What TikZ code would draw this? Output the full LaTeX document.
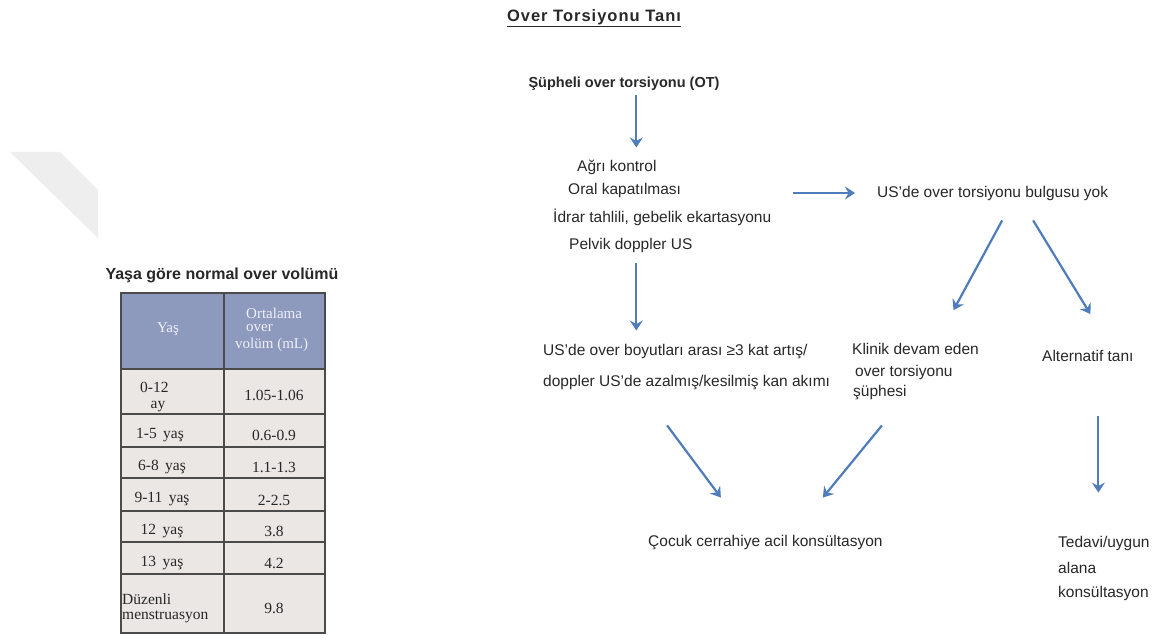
\documentclass[tikz,border=0pt]{standalone}
\usepackage{fontspec}
\setmainfont{Liberation Sans}
\newfontfamily\tabserif{Liberation Serif}
\newfontfamily\titlefont[LetterSpace=6]{Liberation Sans}
\usetikzlibrary{arrows.meta,calc}
\definecolor{arrblue}{RGB}{79,124,186}
\definecolor{txtgray}{RGB}{40,40,40}
\definecolor{headfill}{RGB}{142,153,190}
\definecolor{bodyfill}{RGB}{234,231,228}
\definecolor{gridline}{RGB}{75,75,75}
\definecolor{headtxt}{RGB}{238,240,248}
\definecolor{wmark}{RGB}{238,238,238}
\newcommand\fsz[1]{\fontsize{#1}{#1}\selectfont}
\begin{document}
\begin{tikzpicture}[x=1pt,y=-1pt,
  ftxt/.style={inner sep=0pt,anchor=west,text=txtgray,font=\fsz{15.5}},
  fbold/.style={inner sep=0pt,text=txtgray,font=\fsz{14.5}\bfseries},
  ttxt/.style={inner sep=0pt,text=txtgray,font=\tabserif\fsz{15.5}},
  htxt/.style={inner sep=0pt,text=headtxt,font=\tabserif\fsz{15}},
  arr/.style={draw=arrblue,line width=2.2pt,-{Stealth[length=10pt,width=13pt,inset=3.5pt]}},
  grid/.style={draw=gridline,line width=1.3pt}]
\useasboundingbox (0,0) rectangle (1162,639);
\fill[white] (0,0) rectangle (1162,639);
% watermark band
\fill[wmark] (10,152) -- (60,152) -- (98,190) -- (98,238) -- cycle;

% ---------- table ----------
\node[fbold,font=\fsz{16}\bfseries] (ttl) at (222,275) {Yaşa göre normal over volümü};
\fill[headfill] (121,293) rectangle (325,369);
\fill[bodyfill] (121,369) rectangle (325,633);
\draw[grid] (121,293) rectangle (325,633);
\draw[grid] (224,293) -- (224,633);
\foreach \yy in {369,414,447,478,511,542,574} \draw[grid] (121,\yy) -- (325,\yy);
\node[htxt] (hy) at (168,329) {Yaş};
\node[htxt,anchor=west] (h1) at (246,313) {Ortalama};
\node[htxt,anchor=west] (h2) at (246,328) {over};
\node[htxt,anchor=west] (h3) at (235,345) {volüm (mL)};
\node[ttxt,anchor=west] (r1a) at (140,387) {0-12};
\node[ttxt] (r1b) at (158,407) {ay};
\node[ttxt] (r1v) at (274,395) {1.05-1.06};
\node[ttxt] (r2a) at (160,435) {1-5\, yaş};
\node[ttxt] (r2v) at (274,435) {0.6-0.9};
\node[ttxt] (r3a) at (162,467) {6-8\, yaş};
\node[ttxt] (r3v) at (274,467) {1.1-1.3};
\node[ttxt] (r4a) at (162,499) {9-11\, yaş};
\node[ttxt] (r4v) at (274,500) {2-2.5};
\node[ttxt] (r5a) at (162,531) {12\, yaş};
\node[ttxt] (r5v) at (274,531) {3.8};
\node[ttxt] (r6a) at (162,563) {13\, yaş};
\node[ttxt] (r6v) at (274,563) {4.2};
\node[ttxt,anchor=west] (r7a) at (122,599) {Düzenli};
\node[ttxt,anchor=west] (r7b) at (122,617) {menstruasyon};
\node[ttxt] (r7v) at (274,608) {9.8};

% ---------- flowchart ----------
\node[inner sep=0pt,text=txtgray,font=\titlefont\fsz{16.5}\bfseries] (title) at (594,18) {\underline{Over Torsiyonu Tanı}};
\node[fbold] (ot) at (624,84) {Şüpheli over torsiyonu (OT)};
\node[ftxt] (agri) at (577,167) {Ağrı kontrol};
\node[ftxt] (oral) at (568,190) {Oral kapatılması};
\node[ftxt] (idrar) at (553,217) {İdrar tahlili, gebelik ekartasyonu};
\node[ftxt] (pelvik) at (569,245) {Pelvik doppler US};
\node[ftxt] (bulgu) at (877,193) {US’de over torsiyonu bulgusu yok};
\node[ftxt] (art1) at (543,352) {US’de over boyutları arası ≥3 kat artış/};
\node[ftxt] (art2) at (543,383) {doppler US’de azalmış/kesilmiş kan akımı};
\node[ftxt] (kl1) at (852,349) {Klinik devam eden};
\node[ftxt] (kl2) at (855,372) {over torsiyonu};
\node[ftxt] (kl3) at (853,393) {şüphesi};
\node[ftxt] (alt) at (1042,356) {Alternatif tanı};
\node[ftxt] (cocuk) at (648,543) {Çocuk cerrahiye acil konsültasyon};
\node[ftxt] (ted1) at (1058,543) {Tedavi/uygun};
\node[ftxt] (ted2) at (1058,568) {alana};
\node[ftxt] (ted3) at (1058,593) {konsültasyon};

\draw[arr] ($(ot.south -| pelvik.north)+(5.5,4)$) -- ($(agri.north -| pelvik.north)+(5.5,-12)$);
\draw[arr] ($(pelvik.south)+(5.5,11)$) -- ($(art1.north -| pelvik.south)+(5.5,-14)$);
\draw[arr] ($(bulgu.west)+(-84,0)$) -- ($(bulgu.west)+(-22,0)$);
\draw[arr] ($(bulgu.south)+(9.5,20)$) -- ($(kl1.north)+(38,-33)$);
\draw[arr] ($(bulgu.south)+(40.5,20)$) -- ($(alt.north)+(2.5,-36)$);
\draw[arr] ($(art2.south)+(-19.5,35)$) -- ($(cocuk.north)+(-44.5,-38)$);
\draw[arr] ($(kl3.south)+(2,25)$) -- ($(cocuk.north)+(57.5,-38)$);
\draw[arr] ($(alt.south -| ted1.north)+(-5.5,54)$) -- ($(ted1.north)+(-5.5,-43)$);
\end{tikzpicture}
\end{document}
